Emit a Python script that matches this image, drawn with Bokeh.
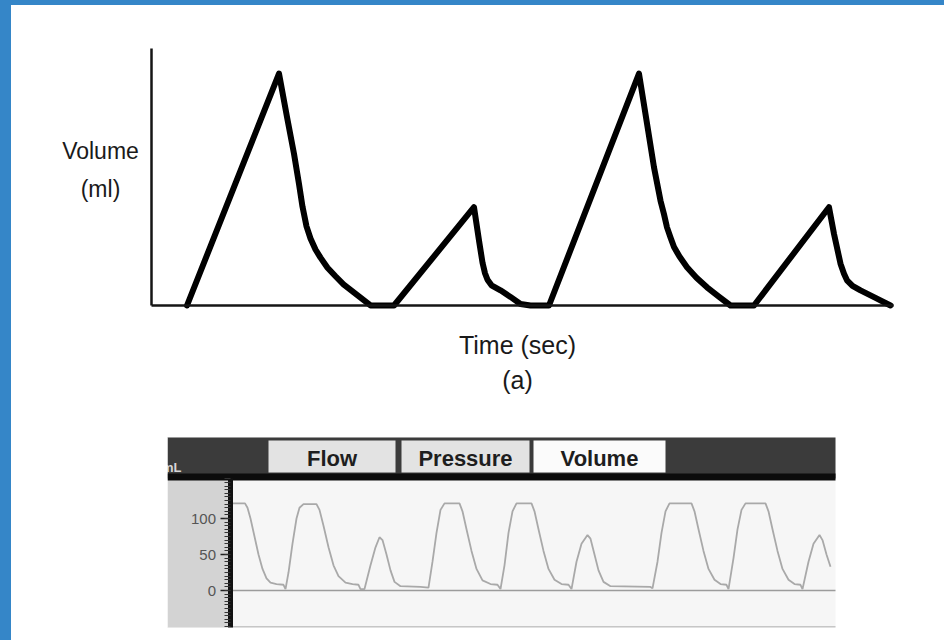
from bokeh.plotting import figure
from bokeh.models import Range1d, LinearAxis, FixedTicker, Spacer
from bokeh.layouts import row, column
from bokeh.embed import file_html
from bokeh.resources import INLINE
from bokeh.core.properties import value

# ---- (a) idealised volume-time curve -------------------------------------
ideal_time = [0.71, 2.55, 2.71, 2.85, 2.95, 3.02, 3.10, 3.18, 3.28, 3.38, 3.52, 3.68,
              3.84, 4.02, 4.20, 4.38,
              4.85, 6.45, 6.55, 6.62, 6.67, 6.72, 6.80, 6.98, 7.18, 7.38, 7.58,
              7.95, 9.75, 9.91, 10.05, 10.18, 10.25, 10.31, 10.38, 10.45, 10.56, 10.71,
              10.90, 11.11, 11.34, 11.58,
              12.05, 13.55, 13.65, 13.78, 13.85, 13.91, 14.02, 14.18, 14.48, 14.78]
ideal_volume = [0, 460, 374, 301, 241, 196, 157, 133, 111, 95, 75, 58,
                42, 28, 14, 0,
                0, 195, 129, 85, 64, 51, 40, 30, 17, 3, 0,
                0, 460, 361, 274, 208, 181, 155, 135, 116, 97, 76,
                55, 36, 18, 0,
                0, 195, 142, 83, 63, 50, 39, 30, 15, 0]

# ---- ventilator monitor volume trace (mL) ---------------------------------
monitor_time = [
    0.00, 0.25, 0.30, 0.36, 0.44, 0.52, 0.60, 0.68, 0.76, 0.88, 1.02, 1.06,
    1.12, 1.20, 1.28, 1.34, 1.42, 1.68, 1.74, 1.82, 1.92, 2.02, 2.12, 2.26, 2.40, 2.52, 2.56, 2.64,
    2.76, 2.86, 2.94, 3.00, 3.08, 3.16, 3.24, 3.36, 3.76, 3.92,
    4.00, 4.08, 4.16, 4.24, 4.54, 4.60, 4.68, 4.78, 4.88, 5.00, 5.16, 5.30, 5.36,
    5.44, 5.52, 5.60, 5.68, 5.98, 6.04, 6.12, 6.22, 6.32, 6.44, 6.58, 6.72, 6.78,
    6.88, 6.98, 7.10, 7.16, 7.24, 7.32, 7.42, 7.56, 8.36, 8.40,
    8.50, 8.58, 8.66, 8.74, 9.18, 9.24, 9.32, 9.42, 9.52, 9.64, 9.76, 9.88, 9.92,
    10.02, 10.10, 10.18, 10.26, 10.66, 10.72, 10.80, 10.90, 11.00, 11.12, 11.24, 11.36, 11.40,
    11.52, 11.62, 11.74, 11.80, 11.88, 11.96,
]
monitor_volume = [
    121, 121, 115, 100, 75, 50, 30, 17, 11, 9, 8, 2,
    25, 65, 100, 115, 120, 120, 112, 90, 60, 35, 20, 11, 9, 8, 2, 2,
    35, 60, 74, 70, 50, 28, 12, 6, 5, 4,
    40, 80, 112, 121, 121, 110, 85, 55, 30, 14, 9, 8, 2,
    35, 80, 110, 121, 121, 110, 85, 55, 30, 15, 9, 8, 2,
    40, 65, 77, 72, 50, 28, 12, 6, 5, 3,
    40, 80, 110, 121, 121, 110, 85, 55, 30, 15, 9, 8, 2,
    45, 85, 112, 121, 121, 110, 85, 55, 30, 15, 9, 8, 2,
    40, 65, 77, 70, 50, 33,
]
monitor_ticks = [0, 50, 100]
tab_names = ["Flow", "Pressure", "Volume"]

BLUE = "#3586c8"
INK = "#151515"
FONT = "Liberation Sans"


def bare_figure(height, x_range, y_range):
    p = figure(width=933, height=height, x_range=Range1d(*x_range), y_range=Range1d(*y_range),
               output_backend="svg", toolbar_location=None,
               x_axis_location=None, y_axis_location=None, min_border=0)
    p.grid.visible = False
    p.outline_line_color = None
    p.background_fill_color = "white"
    p.border_fill_color = "white"
    return p


def plain_axis(**kw):
    return LinearAxis(ticker=FixedTicker(ticks=[]), major_tick_out=0, major_tick_in=0,
                      minor_tick_out=0, minor_tick_in=0, axis_line_color=INK,
                      axis_line_width=2.5, **kw)


# ---- top panel --------------------------------------------------------------
t_end, v_top = 14.84, 510
top = bare_figure(415, (-2.8, 15.86), (-228.2, 595.2))
top.add_layout(plain_axis(fixed_location=0, bounds=(0, v_top)), "left")
top.add_layout(plain_axis(fixed_location=0, bounds=(0, t_end)), "below")
top.line(ideal_time, ideal_volume, line_width=6, line_color="black",
         line_join="round", line_cap="round")

top.text(x=[-1.02, -1.02], y=[307, 232], text=["Volume", "(ml)"], text_font=value(FONT),
         text_font_size="23px", text_color="#1a1a1a", text_align="center",
         text_baseline="middle")
top.text(x=[7.32, 7.32], y=[-79, -148], text=["Time (sec)", "(a)"], text_font=value(FONT),
         text_font_size="25px", text_color="#1a1a1a", text_align="center",
         text_baseline="middle")

# ---- bottom panel: ventilator screen ---------------------------------------
x_lo, x_hi = -1.3, 12.06
y_lo, y_hi = -51.4, 212.5
ruler_x = -0.05
header_y = 155.6

bot = bare_figure(220, (-4.42, 14.24), (-69.4, 236.1))

# screen background and grey scale gutter
bot.quad(left=x_lo, right=x_hi, bottom=y_lo, top=y_hi, fill_color="#f6f6f6", line_color=None)
bot.quad(left=x_lo, right=ruler_x, bottom=y_lo, top=header_y,
         fill_color="#d3d3d3", line_color=None)
bot.segment(x0=[ruler_x, ruler_x], x1=[x_hi, x_hi], y0=[0, y_lo + 1], y1=[0, y_lo + 1],
            line_color=["#9c9c9c", "#c6c6c6"], line_width=1.5)

# dark header bar with tabs
bot.quad(left=x_lo, right=x_hi, bottom=header_y, top=y_hi, fill_color="#3b3b3b", line_color=None)
bot.quad(left=x_lo, right=x_hi, bottom=152.8, top=162.5, fill_color="#0c0c0c", line_color=None)
tab_left = [0.72, 3.38, 6.02]
tab_right = [3.26, 5.94, 8.66]
tab_fill = ["#e3e3e3", "#e3e3e3", "#fbfbfb"]
bot.quad(left=tab_left, right=tab_right, bottom=163.9, top=208.3,
         fill_color=tab_fill, line_color=None)
bot.text(x=[(a + b) / 2 for a, b in zip(tab_left, tab_right)], y=[183] * 3, text=tab_names,
         text_font=value(FONT), text_font_style="bold", text_font_size="22px",
         text_align="center", text_baseline="middle", text_color="#1e1e1e")
bot.text(x=[-1.02], y=[171], text=["mL"], text_font=value(FONT),
         text_font_style="bold", text_font_size="13px", text_align="right",
         text_baseline="middle", text_color="#d6d6d6")
# left edge of the screen hides the start of the unit label
bot.quad(left=[-4.42], right=[x_lo], bottom=[y_lo], top=[y_hi], fill_color="white",
         line_color=None)

bot.line(monitor_time, monitor_volume, line_color="#a9a9a9", line_width=1.8)

ruler = LinearAxis(fixed_location=ruler_x, bounds=(y_lo, header_y),
                   ticker=FixedTicker(ticks=monitor_ticks, minor_ticks=list(range(-50, 156, 5))),
                   axis_line_width=5, axis_line_color="#111111",
                   major_tick_out=10, major_tick_in=0, major_tick_line_color="#222222",
                   major_tick_line_width=1.5,
                   minor_tick_out=6, minor_tick_in=0, minor_tick_line_color="#333333",
                   major_label_text_font=FONT, major_label_text_font_size="15px",
                   major_label_text_color="#555555", major_label_standoff=4)
bot.add_layout(ruler, "left")

layout = row(Spacer(width=11, height=640, styles={"background-color": BLUE}),
             column(Spacer(width=933, height=5, styles={"background-color": BLUE}), top, bot))

open("out.html", "w").write(file_html(layout, INLINE))
